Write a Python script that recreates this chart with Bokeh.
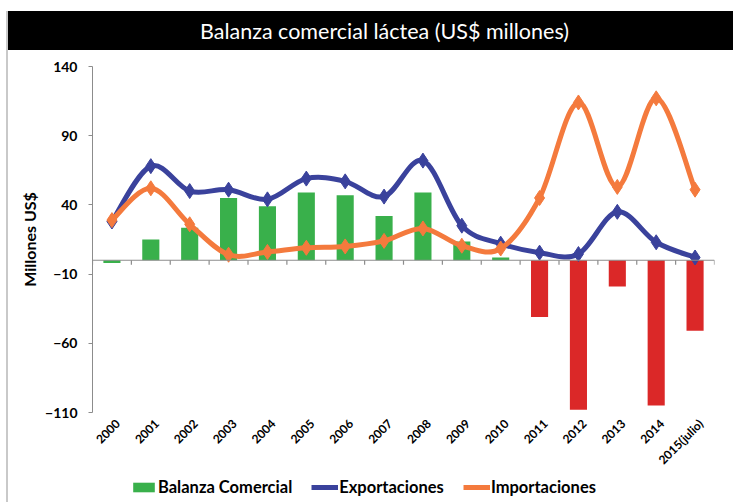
import math
from bokeh.plotting import figure
from bokeh.models import (Range1d, FixedTicker, Span, Legend, LegendItem, Label,
                          ColumnDataSource)
from bokeh.layouts import column
from bokeh.embed import file_html
from bokeh.resources import INLINE

# ---------------- data ----------------
years = ["2000", "2001", "2002", "2003", "2004", "2005", "2006", "2007",
         "2008", "2009", "2010", "2011", "2012", "2013", "2014", "2015(julio)"]
balanza = [-2, 15, 23.5, 45, 39, 49, 47, 32, 49, 13.5, 2, -41, -108, -19, -105, -51]
exportaciones = [28, 68, 50, 51, 44, 59, 57, 46, 72, 25, 12, 5.5, 4.5, 35, 13, 2]
importaciones = [29, 52, 26, 4, 6, 9, 10, 14, 23, 10.5, 8.5, 45, 114, 53, 117, 51]
y_ticks = [-110, -60, -10, 40, 90, 140]

title_text = "Balanza comercial láctea (US$ millones)"
series_names = ["Balanza Comercial", "Exportaciones", "Importaciones"]

# ---------------- styles ----------------
GREEN = "#39b04b"
RED = "#db2828"
BLUE = "#3a429c"
ORANGE = "#f47a3d"
GRAY = "#8c8c8c"
FONT = "Lato"
bar_colors = [GREEN] * 11 + [RED] * 5
LABEL_SHIFT = 0.15  # rotated category labels sit slightly right of centre

xs = list(range(len(years)))


def smooth_segments(xv, yv, t=1.0 / 6.0):
    n = len(xv)
    seg = dict(x0=[], y0=[], x1=[], y1=[], cx0=[], cy0=[], cx1=[], cy1=[])
    for i in range(n - 1):
        ip = max(i - 1, 0)
        inn = min(i + 2, n - 1)
        seg["x0"].append(xv[i]); seg["y0"].append(yv[i])
        seg["x1"].append(xv[i + 1]); seg["y1"].append(yv[i + 1])
        seg["cx0"].append(xv[i] + (xv[i + 1] - xv[ip]) * t)
        seg["cy0"].append(yv[i] + (yv[i + 1] - yv[ip]) * t)
        seg["cx1"].append(xv[i + 1] - (xv[inn] - xv[i]) * t)
        seg["cy1"].append(yv[i + 1] - (yv[inn] - yv[i]) * t)
    return ColumnDataSource(seg)


def bare(fig, fill):
    fig.min_border = 0
    fig.min_border_left = 84
    fig.min_border_right = 19
    fig.background_fill_color = fill
    fig.border_fill_color = fill
    fig.outline_line_color = None
    fig.grid.visible = False


# ---------------- title bar ----------------
t = figure(width=725, height=39, output_backend="svg", toolbar_location=None,
           x_range=Range1d(84, 706), y_range=Range1d(0, 1),
           x_axis_location=None, y_axis_location=None)
bare(t, "black")
t.add_layout(Label(x=376, y=0.5, text=title_text, text_align="center",
                   text_baseline="middle", text_color="white",
                   text_font=FONT, text_font_size="21.5px"))

# ---------------- main chart ----------------
p = figure(width=725, height=425, output_backend="svg", toolbar_location=None,
           x_range=Range1d(-0.5, len(years) - 0.5), y_range=Range1d(-110, 140))
p.min_border_left = 84
p.min_border_right = 19
p.min_border_top = 16
p.min_border_bottom = 62
p.background_fill_color = "white"
p.border_fill_color = "white"
p.outline_line_color = None
p.grid.visible = False

# y axis
p.yaxis.ticker = FixedTicker(ticks=y_ticks)
p.yaxis.axis_line_color = GRAY
p.yaxis.major_tick_line_color = GRAY
p.yaxis.major_tick_out = 4
p.yaxis.major_tick_in = 0
p.yaxis.minor_tick_line_color = None
p.yaxis.major_label_standoff = 11
p.yaxis.major_label_text_font = FONT
p.yaxis.major_label_text_font_style = "bold"
p.yaxis.major_label_text_font_size = "14px"
p.yaxis.major_label_text_color = "black"
p.yaxis.axis_label = "Millones US$"
p.yaxis.axis_label_text_font = FONT
p.yaxis.axis_label_text_font_style = "bold"
p.yaxis.axis_label_text_font_size = "16px"
p.yaxis.axis_label_text_color = "black"
p.yaxis.axis_label_standoff = 3

# x axis (labels only, at bottom)
tick_pos = [i + LABEL_SHIFT for i in xs]
p.xaxis.ticker = FixedTicker(ticks=tick_pos)
p.xaxis.major_label_overrides = {tp: y for tp, y in zip(tick_pos, years)}
p.xaxis.major_label_orientation = math.pi / 4
p.xaxis.axis_line_color = None
p.xaxis.major_tick_line_color = None
p.xaxis.minor_tick_line_color = None
p.xaxis.major_label_standoff = 3
p.xaxis.major_label_text_font = FONT
p.xaxis.major_label_text_font_style = "bold"
p.xaxis.major_label_text_font_size = "12px"
p.xaxis.major_label_text_color = "black"

# zero line with category-boundary ticks
p.add_layout(Span(location=0, dimension="width", line_color=GRAY, line_width=1.2))
bounds = [i - 0.5 for i in range(len(years) + 1)]
p.segment(x0=bounds, y0=[0] * len(bounds), x1=bounds, y1=[-3.2] * len(bounds),
          line_color=GRAY, line_width=1.2)

# bars
bar_src = ColumnDataSource(dict(x=xs, top=balanza, color=bar_colors))
p.vbar(x="x", top="top", bottom=0, width=0.44, source=bar_src,
       fill_color="color", line_color=None)

# smoothed lines with diamond markers
p.bezier(x0="x0", y0="y0", x1="x1", y1="y1", cx0="cx0", cy0="cy0",
         cx1="cx1", cy1="cy1", source=smooth_segments(xs, exportaciones),
         line_color=BLUE, line_width=5)
p.scatter(xs, exportaciones, marker="diamond", size=15,
          fill_color=BLUE, line_color=BLUE)
p.bezier(x0="x0", y0="y0", x1="x1", y1="y1", cx0="cx0", cy0="cy0",
         cx1="cx1", cy1="cy1", source=smooth_segments(xs, importaciones),
         line_color=ORANGE, line_width=5)
p.scatter(xs, importaciones, marker="diamond", size=15,
          fill_color=ORANGE, line_color=ORANGE)

# ---------------- legend strip ----------------
# proxy renderers carry the same series, but lie outside this strip's ranges
lg = figure(width=725, height=27, output_backend="svg", toolbar_location=None,
            x_range=Range1d(-0.5, len(years) - 0.5), y_range=Range1d(1000, 1001),
            x_axis_location=None, y_axis_location=None)
bare(lg, "white")
g_bar = lg.vbar(x=xs, top=balanza, width=0.44, fill_color=GREEN, line_color=None)
g_exp_l = lg.line(x=xs, y=exportaciones, line_color=BLUE, line_width=5)
g_exp_m = lg.scatter(x=xs, y=exportaciones, marker="diamond", size=14,
                     fill_color=BLUE, line_color=BLUE)
g_imp_l = lg.line(x=xs, y=importaciones, line_color=ORANGE, line_width=5)
g_imp_m = lg.scatter(x=xs, y=importaciones, marker="diamond", size=14,
                     fill_color=ORANGE, line_color=ORANGE)

legend = Legend(items=[
    LegendItem(label=series_names[0], renderers=[g_bar]),
    LegendItem(label=series_names[1], renderers=[g_exp_l, g_exp_m]),
    LegendItem(label=series_names[2], renderers=[g_imp_l, g_imp_m]),
], orientation="horizontal", location=(38, 5))
legend.background_fill_alpha = 0
legend.border_line_color = None
legend.padding = 0
legend.margin = 0
legend.spacing = 19
legend.glyph_width = 27
legend.glyph_height = 12
legend.label_standoff = 1
legend.label_height = 12
legend.label_text_font = FONT
legend.label_text_font_style = "bold"
legend.label_text_font_size = "16.5px"
legend.label_text_color = "black"
lg.add_layout(legend, "center")

layout = column(t, p, lg, spacing=0,
                styles={"margin-left": "6px", "margin-top": "11px",
                        "border-left": "2px solid #c9c9c9",
                        "background": "linear-gradient(to bottom, #000 0px, #000 39px, #fff 39px, #fff 100%)"})

open("out.html", "w").write(file_html(layout, INLINE))
